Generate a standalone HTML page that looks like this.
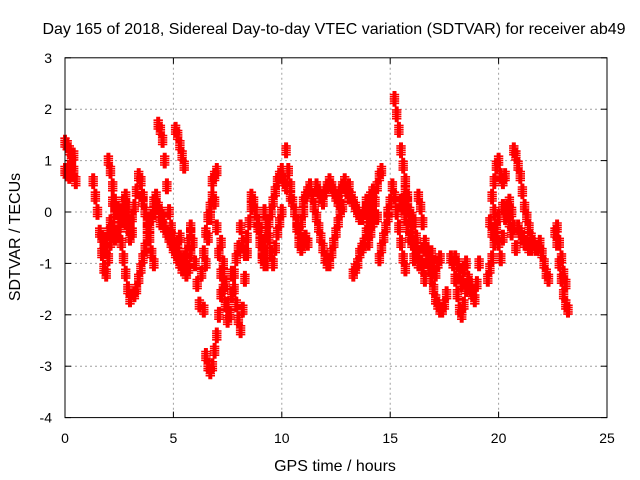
<!DOCTYPE html>
<html><head><meta charset="utf-8"><style>
body{margin:0;background:#fff;}
svg{display:block;font-family:"Liberation Sans",sans-serif;}
</style></head><body>
<svg id="chart" width="640" height="480" viewBox="0 0 640 480">
<text x="334" y="34" font-size="16" text-anchor="middle">Day 165 of 2018, Sidereal Day-to-day VTEC variation (SDTVAR) for receiver ab49</text>
<text x="335" y="471" font-size="16" text-anchor="middle">GPS time / hours</text>
<text transform="translate(20,237) rotate(-90)" font-size="16" text-anchor="middle">SDTVAR / TECUs</text>
<g id="grid"></g>
<g id="ticks"></g>
<g id="marks" stroke="#ff0000" stroke-width="1.6"></g>
<rect x="65" y="57.8" width="542" height="359.8" fill="none" stroke="#000" stroke-width="1"/>
</svg>
<script>
const xTicks=[0,5,10,15,20,25];
const yTicks=[3,2,1,0,-1,-2,-3,-4];
const trackStarts=[0.0,0.0,1.3,1.7,2.0,2.2,2.3,3.0,3.2,3.6,4.3,4.4,5.1,5.0,5.8,6.4,6.5,6.8,7.2,7.7,8.1,8.6,9.1,9.2,10.2,10.4,11.0,11.6,13.1,13.3,14.0,13.8,14.5,15.2,14.9,15.5,15.7,16.3,16.6,17.8,18.0,19.5,19.7,19.6,20.2,20.7,20.9,22.6,22.7];
const trackValues=[
[1.35,1.3,1.2,1.0,0.8,0.6],
[0.8,0.75,0.7,0.9,1.1],
[0.6,0.3,0.0,-0.4,-0.8,-1.1,-1.2,-0.9,-0.6,-0.3,0.0],
[-0.5,-0.6,-0.7,-0.4,-0.2],
[1.0,0.8,0.5,0.2,0.0,-0.3,-0.6,-0.9,-1.2,-1.5,-1.7],
[0.2,0.1,0.0,-0.1,0.0,0.2,0.3,0.1,-0.2,-0.4],
[-0.5,-0.4,-0.3,-0.1,0.0,-0.2,-0.3,-0.5],
[-0.3,-0.1,0.1,0.4,0.7,0.6,0.3,0.0,-0.3,-0.5,-0.8,-1.0],
[-1.6,-1.5,-1.3,-1.1,-0.9,-0.7,-0.5,-0.3,-0.1,0.0],
[0.2,0.0,-0.2,-0.3,-0.1,0.2,0.3,0.1,-0.2],
[1.7,1.6,1.4,1.0,0.5,0.0,-0.3,-0.5,-0.7,-0.8,-0.9,-1.0,-1.1,-1.2,-1.1,-0.8],
[0.0,-0.1,-0.3,-0.4,-0.5,-0.6,-0.7,-0.8,-0.6,-0.5],
[1.6,1.5,1.3,1.1,0.9],
[-0.7,-0.8,-0.9,-1.0,-1.1,-0.9,-0.8,-0.6,-0.4],
[-0.3,-0.6,-1.0,-1.4,-1.8,-1.2,-0.8,-0.4,-0.1,0.1],
[-1.9,-1.0,-0.5,-0.1,0.3,0.7,0.8],
[-2.8,-3.0,-3.1,-3.0,-2.7,-2.4,-2.0,-1.6,-1.2],
[0.6,0.2,-0.3,-0.8,-1.2,-1.5,-1.8,-2.1],
[-0.6,-1.0,-1.4,-1.8,-2.0,-1.6,-1.2,-0.9,-0.7],
[-1.2,-1.5,-1.8,-2.1,-2.3,-1.9,-1.3,-0.8],
[-0.3,-0.6,-0.8,-0.5,-0.2,0.1,0.2,0.0,-0.3,-0.6,-0.9,-1.0,-0.8,-0.5],
[0.3,0.2,0.0,-0.2,-0.4,-0.6,-0.8,-1.0],
[-0.8,-0.6,-0.4,-0.2,0.0,0.2,0.4,0.6,0.7,0.8,0.6,0.5],
[0.0,-0.2,-0.5,-0.8,-1.0,-0.7,-0.4,-0.2,0.0],
[1.2,0.8,0.5,0.2,0.0,-0.3,-0.6,-0.7,-0.6,-0.5,-0.6],
[0.3,0.2,0.0,-0.2,-0.4,-0.2,0.0],
[0.2,0.3,0.4,0.5,0.3,0.1,-0.1,-0.3,-0.5,-0.7,-0.9,-1.0,-1.0,-0.8,-0.6,-0.4,-0.2,0.0,0.1],
[0.5,0.4,0.3,0.2,0.4,0.5,0.6,0.5,0.4,0.3,0.2,0.4,0.5,0.6,0.4,0.3],
[0.5,0.3,0.2,0.1,0.0,-0.1,-0.1,0.0,0.1,0.0,-0.1,-0.2,-0.1],
[-1.2,-1.1,-1.0,-0.8,-0.7,-0.6,-0.4,-0.3,-0.2],
[-0.6,-0.4,-0.1,0.2,0.5,0.7,0.8],
[0.0,0.2,0.1,0.3,0.4,0.2,-0.1],
[-0.9,-0.7,-0.5,-0.3,-0.1],
[2.2,1.9,1.6,1.2,0.9,0.6,0.3,0.0,-0.3,-0.6,-0.7,-1.0],
[0.0,0.2,0.5,0.3,0.0,-0.3,-0.6,-0.9,-1.1],
[0.2,0.1,-0.1,-0.3,-0.5,-0.6,-0.9],
[0.4,0.2,0.0,-0.1,-0.2,-0.5,-0.8,-1.0,-1.1,-1.3],
[0.3,0.1,-0.2,-0.6,-0.9,-1.1,-1.3,-1.5,-1.7,-1.8,-1.9,-1.9,-1.8,-1.6],
[-0.7,-0.9,-1.0,-0.8,-1.0,-1.2,-1.0,-0.9],
[-0.9,-1.0,-1.3,-1.6,-1.9,-2.0,-1.8,-1.5,-1.3,-1.4,-1.6,-1.7,-1.4,-1.0],
[-0.9,-1.0,-1.2,-1.4,-1.1,-1.0,-1.3,-1.5],
[-1.3,-1.1,-0.9,-0.6,-0.3,-0.1],
[0.3,0.6,0.9,1.0,0.7,0.6,0.7],
[-0.2,-0.4,0.0,-0.5,-0.6,-0.9,-0.5,-0.1,0.1,0.2,0.0,-0.3,-0.7],
[0.1,-0.1,0.0,-0.2,-0.4],
[1.2,1.1,0.9,0.7,0.4,0.1,-0.1,-0.3,-0.5,-0.6,-0.7,-0.7,-0.6,-0.8,-1.0,-1.2,-1.3],
[-0.3,-0.4,-0.5,-0.6,-0.6,-0.7,-0.7],
[-0.4,-0.6,-1.0,-1.3,-1.6,-1.8,-1.9],
[-0.3,-0.6,-0.9,-1.2,-1.4]
];
const sampleStep=0.1;
const X0=65,X1=607,Y0=417.6,Y1=57.8;
function xs(t){return X0+(t-0)/(25-0)*(X1-X0);}
function ys(v){return Y0-(v-(-4))/(3-(-4))*(Y0-Y1);}
const NS="http://www.w3.org/2000/svg";
function mk(tag,attrs,parent){const e=document.createElementNS(NS,tag);for(const k in attrs)e.setAttribute(k,attrs[k]);parent.appendChild(e);return e;}
const grid=document.getElementById('grid'),ticks=document.getElementById('ticks'),svg=document.getElementById('chart');
xTicks.forEach(t=>{const x=xs(t);
 if(t>0&&t<25){const g=mk('line',{x1:x,x2:x,y1:Y1,y2:Y0,stroke:'#a0a0a0','stroke-dasharray':'2,3'},grid);
 
 }
 mk('line',{x1:x,x2:x,y1:Y0,y2:Y0-6,stroke:'#000'},ticks);
 mk('line',{x1:x,x2:x,y1:Y1,y2:Y1+6,stroke:'#000'},ticks);
 const l=mk('text',{x:x,y:443,'font-size':14,'text-anchor':'middle'},svg);l.textContent=t;
 
 
});
yTicks.forEach(v=>{const y=ys(v);
 if(v<3&&v>-4){const g=mk('line',{x1:X0,x2:X1,y1:y,y2:y,stroke:'#a0a0a0','stroke-dasharray':'2,3'},grid);
 
 }
 mk('line',{x1:X0,x2:X0+6,y1:y,y2:y,stroke:'#000'},ticks);
 mk('line',{x1:X1,x2:X1-6,y1:y,y2:y,stroke:'#000'},ticks);
 const l=mk('text',{x:52,y:y+5,'font-size':14,'text-anchor':'end'},svg);l.textContent=v;
 
 
});
const marks=document.getElementById('marks');
let d='';
trackValues.forEach((vals,i)=>{vals.forEach((v,j)=>{
 const x0=xs(trackStarts[i]+j*sampleStep),y0=ys(v);
 for(let a=-1;a<=1;a++){for(let k=-2;k<=2;k++){const x=x0+a*1.2,yy=y0+k*2.2;
  d+=`M${(x-3.5).toFixed(1)} ${yy.toFixed(1)}h7M${x.toFixed(1)} ${(yy-3.5).toFixed(1)}v7`;}}
});});
const p=mk('path',{d:d,fill:'none'},marks);


</script>
</body></html>
